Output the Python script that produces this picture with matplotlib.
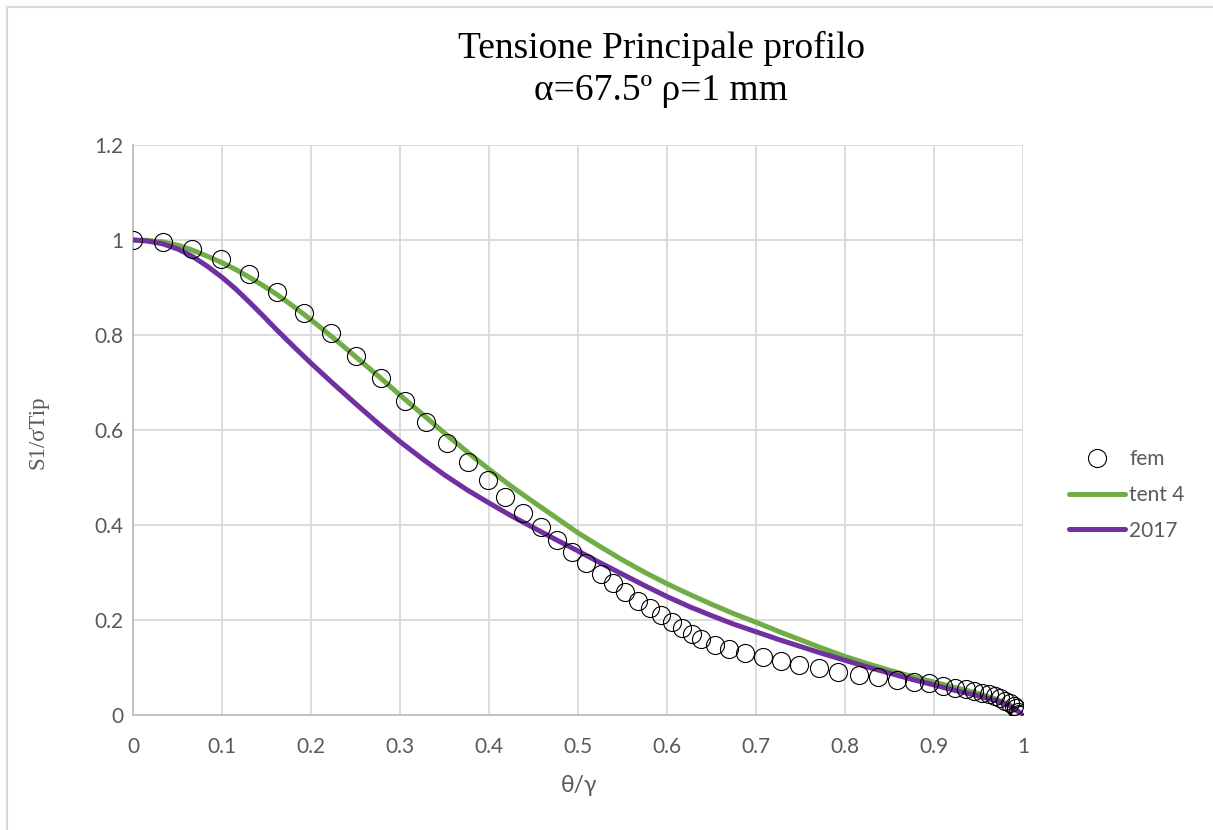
import matplotlib
matplotlib.use("Agg")
import matplotlib.pyplot as plt
from matplotlib.lines import Line2D

# ---- data ----
fem_x = [0.0, 0.0329, 0.0657, 0.0985, 0.1299, 0.1617, 0.1923, 0.2217, 0.2502, 0.2782,
         0.3050, 0.3286, 0.3527, 0.3756, 0.3987, 0.4181, 0.4378, 0.4580, 0.4759, 0.4927,
         0.5088, 0.5252, 0.5394, 0.5525, 0.5674, 0.5809, 0.5928, 0.6058, 0.6170, 0.6282,
         0.6383, 0.6533, 0.6690, 0.6869, 0.7074, 0.7272, 0.7485, 0.7709, 0.7914, 0.8157,
         0.8373, 0.8578, 0.8773, 0.8941, 0.9101, 0.9227, 0.9351, 0.9444, 0.9538, 0.9613,
         0.9686, 0.9742, 0.9798, 0.9848, 0.9892, 0.9922, 0.9941, 0.9955, 0.9960]
fem_y = [1.0, 0.9952, 0.9811, 0.9594, 0.9278, 0.8905, 0.8463, 0.8036, 0.7558, 0.7088,
         0.6617, 0.6168, 0.5733, 0.5326, 0.4947, 0.4596, 0.4259, 0.3964, 0.3684, 0.3425,
         0.3194, 0.2975, 0.2773, 0.2583, 0.2400, 0.2253, 0.2105, 0.1964, 0.1825, 0.1699,
         0.1594, 0.1474, 0.1383, 0.1312, 0.1227, 0.1143, 0.1053, 0.0996, 0.0912, 0.0842,
         0.0794, 0.0737, 0.0701, 0.0667, 0.0617, 0.0575, 0.0541, 0.0512, 0.0469, 0.0436,
         0.0400, 0.0352, 0.0301, 0.0246, 0.0189, 0.0141, 0.0069, 0.0030, 0.0]

tent4_x = [0.0, 0.015, 0.033, 0.05, 0.066, 0.083, 0.1, 0.115, 0.13, 0.145, 0.16, 0.175,
           0.19, 0.205, 0.22, 0.235, 0.25, 0.265, 0.28, 0.295, 0.31, 0.325, 0.34, 0.355,
           0.37, 0.385, 0.4, 0.42, 0.44, 0.46, 0.48, 0.5, 0.525, 0.55, 0.575, 0.6, 0.625,
           0.65, 0.675, 0.7, 0.725, 0.75, 0.775, 0.8, 0.825, 0.85, 0.875, 0.9, 0.925, 0.95,
           0.97, 0.985, 1.0]
tent4_y = [1.0, 0.9993, 0.996, 0.989, 0.979, 0.966, 0.952, 0.938, 0.922, 0.905, 0.887, 0.867,
           0.846, 0.824, 0.801, 0.778, 0.754, 0.730, 0.706, 0.681, 0.657, 0.633, 0.609, 0.585,
           0.562, 0.539, 0.517, 0.488, 0.461, 0.435, 0.409, 0.383, 0.354, 0.326, 0.300, 0.276,
           0.254, 0.233, 0.213, 0.195, 0.176, 0.158, 0.140, 0.123, 0.108, 0.094, 0.081, 0.069,
           0.057, 0.045, 0.033, 0.021, 0.0]

y2017_x = [0.0, 0.015, 0.033, 0.05, 0.066, 0.083, 0.1, 0.115, 0.13, 0.145, 0.16, 0.18, 0.2,
           0.225, 0.25, 0.275, 0.3, 0.325, 0.35, 0.375, 0.4, 0.425, 0.45, 0.475, 0.5, 0.525,
           0.55, 0.575, 0.6, 0.625, 0.65, 0.675, 0.7, 0.725, 0.75, 0.775, 0.8, 0.825, 0.85,
           0.875, 0.9, 0.925, 0.95, 0.97, 0.985, 1.0]
y2017_y = [1.0, 0.998, 0.992, 0.981, 0.966, 0.945, 0.921, 0.897, 0.870, 0.842, 0.813, 0.776,
           0.740, 0.697, 0.655, 0.614, 0.575, 0.539, 0.505, 0.474, 0.446, 0.419, 0.394, 0.369,
           0.345, 0.320, 0.296, 0.272, 0.249, 0.228, 0.209, 0.191, 0.175, 0.159, 0.144, 0.129,
           0.115, 0.101, 0.088, 0.075, 0.063, 0.051, 0.040, 0.030, 0.019, 0.0]

x_ticks = [0, 0.1, 0.2, 0.3, 0.4, 0.5, 0.6, 0.7, 0.8, 0.9, 1]
x_tick_labels = ["0", "0.1", "0.2", "0.3", "0.4", "0.5", "0.6", "0.7", "0.8", "0.9", "1"]
y_ticks = [0, 0.2, 0.4, 0.6, 0.8, 1.0, 1.2]
y_tick_labels = ["0", "0.2", "0.4", "0.6", "0.8", "1", "1.2"]

# ---- figure ----
W, H = 1213, 830
fig = plt.figure(figsize=(W / 100, H / 100), dpi=100)
ax = fig.add_axes([133.3 / W, 115 / H, (1023.3 - 133.3) / W, (715 - 145) / H])

GREEN = "#70AD47"
PURPLE = "#7030A0"
GRID = "#d9d9d9"
TXT = "#595959"

ax.plot(fem_x, fem_y, linestyle="none", marker="o", markersize=13, markerfacecolor="none",
        markeredgecolor="black", markeredgewidth=0.8, label="fem", zorder=4)
ax.plot(tent4_x, tent4_y, color=GREEN, lw=3.6, solid_capstyle="round",
        solid_joinstyle="round", label="tent 4", zorder=2)
ax.plot(y2017_x, y2017_y, color=PURPLE, lw=3.6, solid_capstyle="round",
        solid_joinstyle="round", label="2017", zorder=3)

ax.set_xlim(0, 1)
ax.set_ylim(0, 1.2)
ax.set_xticks(x_ticks)
ax.set_xticklabels(x_tick_labels)
ax.set_yticks(y_ticks)
ax.set_yticklabels(y_tick_labels)
ax.grid(True, color=GRID, lw=1.3)
ax.set_axisbelow(True)
for s in ["top", "right"]:
    ax.spines[s].set_visible(False)
for s in ["left", "bottom"]:
    ax.spines[s].set_color("#bfbfbf")
    ax.spines[s].set_linewidth(1.3)
ax.tick_params(length=0, labelcolor=TXT, labelsize=15)
ax.tick_params(axis="x", pad=16)
ax.tick_params(axis="y", pad=7)
for lab in ax.get_xticklabels() + ax.get_yticklabels():
    lab.set_fontfamily("Lato")

fig.text(38 / W, 1 - 432 / H, "S1/σTip", rotation=90, ha="center", va="center",
         fontsize=16.5, family="Liberation Serif", color=TXT)
fig.text(579 / W, 1 - 785 / H, "θ/γ", ha="center", va="center", fontsize=16.5,
         family=["Lato", "DejaVu Sans"], color=TXT)

fig.text(661 / W, 1 - 58 / H, "Tensione Principale profilo", ha="center", va="baseline",
         fontsize=27, family="Liberation Serif", color="black")
fig.text(661 / W, 1 - 100 / H, "α=67.5º ρ=1 mm", ha="center", va="baseline",
         fontsize=27, family="Liberation Serif", color="black")

leg = ax.legend(loc="center left", bbox_to_anchor=(1050 / W, 1 - 495 / H),
                bbox_transform=fig.transFigure, frameon=False, handlelength=2.7,
                handletextpad=0.2, labelspacing=0.75, borderpad=0.4,
                prop={"family": "Lato", "size": 15})
for t in leg.get_texts():
    t.set_color(TXT)

# chart-area border
fig.add_artist(Line2D([7 / W, 7 / W], [0, 1 - 7 / H], transform=fig.transFigure,
                      color=GRID, lw=1.5))
fig.add_artist(Line2D([7 / W, 1], [1 - 7 / H, 1 - 7 / H], transform=fig.transFigure,
                      color=GRID, lw=1.5))

fig.savefig("out.png", dpi=100)
